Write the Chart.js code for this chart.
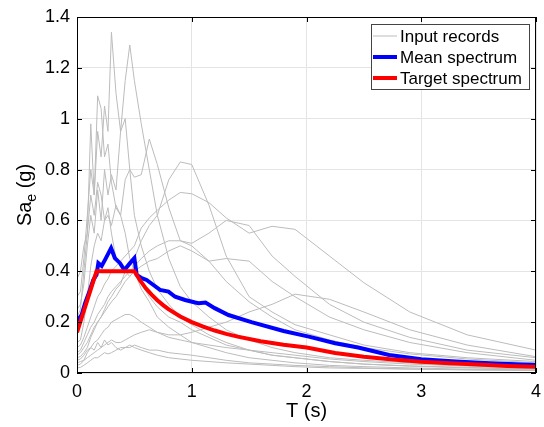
<!DOCTYPE html>
<html>
<head>
<meta charset="utf-8">
<script src="https://cdn.jsdelivr.net/npm/chart.js@4.4.0/dist/chart.umd.min.js"></script>
<style>
  html, body { margin: 0; padding: 0; background: #fff; }
  #wrap { width: 544px; height: 427px; }
</style>
</head>
<body>
<div id="wrap"><canvas id="spectra" width="544" height="427"></canvas></div>
<script>
// periods (s) shared by the input records
const periods = [0, 0.03, 0.06, 0.09, 0.12, 0.15, 0.18, 0.21, 0.24, 0.27, 0.3, 0.34, 0.38, 0.42, 0.46, 0.5,
                 0.56, 0.63, 0.7, 0.8, 0.9, 1.0, 1.15, 1.3, 1.5, 1.7, 1.9, 2.2, 2.5, 2.9, 3.4, 4.0];

// input records, Sa (g)
const rec01 = [0.30, 0.32, 0.45, 0.62, 0.80, 0.70, 0.95, 0.85, 1.05, 0.95, 1.34, 1.10, 0.95, 1.00, 0.80, 0.62,
               0.50, 0.40, 0.33, 0.27, 0.22, 0.19, 0.15, 0.12, 0.09, 0.07, 0.06, 0.045, 0.035, 0.027, 0.02, 0.015];
const rec02 = [0.25, 0.27, 0.35, 0.50, 0.62, 0.55, 0.72, 0.60, 0.80, 0.70, 0.78, 0.72, 0.95, 1.15, 1.29, 1.15,
               0.98, 0.80, 0.62, 0.45, 0.34, 0.28, 0.22, 0.17, 0.13, 0.10, 0.08, 0.06, 0.05, 0.04, 0.03, 0.022];
const rec03 = [0.22, 0.25, 0.40, 0.55, 0.98, 0.70, 1.09, 1.04, 0.85, 0.90, 0.75, 0.65, 0.62, 0.55, 0.45, 0.40,
               0.33, 0.28, 0.22, 0.18, 0.15, 0.12, 0.10, 0.08, 0.06, 0.05, 0.04, 0.03, 0.025, 0.02, 0.015, 0.012];
const rec04 = [0.12, 0.13, 0.20, 0.30, 0.42, 0.50, 0.55, 0.52, 0.60, 0.62, 0.58, 0.66, 0.62, 0.76, 0.80, 0.77,
               0.78, 0.92, 0.82, 0.65, 0.52, 0.50, 0.44, 0.36, 0.28, 0.22, 0.17, 0.13, 0.10, 0.075, 0.055, 0.04];
const rec05 = [0.06, 0.065, 0.08, 0.10, 0.14, 0.17, 0.20, 0.22, 0.25, 0.28, 0.30, 0.33, 0.35, 0.40, 0.43, 0.45,
               0.52, 0.58, 0.62, 0.76, 0.83, 0.82, 0.66, 0.46, 0.30, 0.24, 0.19, 0.15, 0.11, 0.08, 0.06, 0.045];
const rec06 = [0.10, 0.11, 0.14, 0.18, 0.22, 0.26, 0.30, 0.32, 0.35, 0.37, 0.40, 0.42, 0.44, 0.46, 0.48, 0.50,
               0.57, 0.61, 0.64, 0.68, 0.71, 0.705, 0.67, 0.61, 0.55, 0.577, 0.565, 0.46, 0.355, 0.24, 0.15, 0.09];
const rec07 = [0.08, 0.09, 0.12, 0.15, 0.18, 0.20, 0.23, 0.25, 0.27, 0.30, 0.32, 0.34, 0.36, 0.38, 0.40, 0.42,
               0.45, 0.48, 0.50, 0.52, 0.52, 0.51, 0.55, 0.60, 0.58, 0.46, 0.38, 0.27, 0.20, 0.14, 0.09, 0.06];
const rec08 = [0.04, 0.045, 0.05, 0.06, 0.07, 0.08, 0.09, 0.10, 0.11, 0.12, 0.13, 0.12, 0.12, 0.13, 0.14, 0.15,
               0.16, 0.17, 0.16, 0.15, 0.15, 0.16, 0.18, 0.20, 0.24, 0.27, 0.31, 0.29, 0.24, 0.17, 0.11, 0.064];
const rec09 = [0.05, 0.055, 0.07, 0.09, 0.10, 0.12, 0.13, 0.15, 0.17, 0.18, 0.20, 0.21, 0.22, 0.23, 0.23, 0.22,
               0.20, 0.18, 0.16, 0.14, 0.13, 0.12, 0.11, 0.10, 0.09, 0.08, 0.07, 0.055, 0.045, 0.035, 0.027, 0.02];
const rec10 = [0.03, 0.035, 0.05, 0.08, 0.10, 0.09, 0.12, 0.10, 0.13, 0.11, 0.12, 0.10, 0.09, 0.10, 0.11, 0.10,
               0.09, 0.08, 0.07, 0.06, 0.055, 0.05, 0.045, 0.04, 0.035, 0.03, 0.025, 0.02, 0.018, 0.015, 0.012, 0.01];
const rec11 = [0.02, 0.022, 0.03, 0.04, 0.05, 0.06, 0.06, 0.07, 0.08, 0.075, 0.08, 0.09, 0.10, 0.10, 0.10, 0.11,
               0.10, 0.09, 0.09, 0.08, 0.075, 0.07, 0.06, 0.05, 0.04, 0.035, 0.03, 0.025, 0.02, 0.016, 0.013, 0.01];
const rec12 = [0.37, 0.40, 0.50, 0.55, 0.70, 0.62, 0.75, 0.70, 0.60, 0.65, 0.55, 0.45, 0.42, 0.40, 0.38, 0.40,
               0.35, 0.30, 0.26, 0.22, 0.20, 0.17, 0.14, 0.11, 0.09, 0.07, 0.06, 0.045, 0.035, 0.028, 0.022, 0.017];
const rec13 = [0.07, 0.08, 0.10, 0.12, 0.15, 0.18, 0.20, 0.22, 0.24, 0.26, 0.28, 0.30, 0.33, 0.36, 0.38, 0.40,
               0.42, 0.44, 0.45, 0.48, 0.50, 0.48, 0.44, 0.45, 0.44, 0.36, 0.30, 0.22, 0.17, 0.12, 0.08, 0.05];
const records = [rec01, rec02, rec03, rec04, rec05, rec06, rec07, rec08, rec09, rec10, rec11, rec12, rec13];

// mean spectrum
const meanT  = [0, 0.04, 0.07, 0.113, 0.142, 0.17, 0.186, 0.215, 0.244, 0.297, 0.33, 0.375, 0.413, 0.462, 0.5,
                0.52, 0.564, 0.607, 0.666, 0.724, 0.797, 0.855, 0.942, 1.03, 1.06, 1.12, 1.2, 1.32, 1.52, 1.8,
                2.02, 2.25, 2.45, 2.72, 3.0, 3.3, 3.6, 4.0];
const meanSa = [0.205, 0.228, 0.274, 0.327, 0.366, 0.386, 0.432, 0.421, 0.445, 0.491, 0.452, 0.432, 0.405, 0.432, 0.452,
                0.386, 0.373, 0.366, 0.346, 0.327, 0.32, 0.30, 0.287, 0.277, 0.274, 0.277, 0.255, 0.228, 0.2, 0.165,
                0.143, 0.117, 0.1, 0.071, 0.054, 0.045, 0.038, 0.031];

// target spectrum
const targetT  = [0, 0.17, 0.5, 0.55, 0.6, 0.65, 0.7, 0.75, 0.8, 0.9, 1.0, 1.1, 1.2, 1.3, 1.4, 1.6, 1.8, 2.0,
                  2.25, 2.5, 2.75, 3.0, 3.25, 3.5, 3.75, 4.0];
const targetSa = [0.16, 0.4, 0.4, 0.364, 0.333, 0.308, 0.286, 0.267, 0.25, 0.222, 0.2, 0.182, 0.167, 0.154, 0.143,
                  0.125, 0.111, 0.1, 0.079, 0.064, 0.053, 0.044, 0.038, 0.033, 0.028, 0.025];

const xTicks = [0, 1, 2, 3, 4];
const yTicks = [0, 0.2, 0.4, 0.6, 0.8, 1, 1.2, 1.4];

const FONT = 'Liberation Sans, Arial, Helvetica, sans-serif';
const toPts = (xs, ys) => xs.map((t, i) => ({ x: t, y: ys[i] }));

const datasets = [
    {
        label: 'Target spectrum',
        data: toPts(targetT, targetSa),
        borderColor: 'rgb(255,0,0)',
        borderWidth: 4,
        order: 0
    },
    {
        label: 'Mean spectrum',
        data: toPts(meanT, meanSa),
        borderColor: 'rgb(0,0,255)',
        borderWidth: 4,
        order: 1
    }
];
records.forEach((r, i) => {
    datasets.push({
        label: 'Input records ' + (i + 1),
        data: toPts(periods, r),
        borderColor: 'rgb(188,188,188)',
        borderWidth: 1,
        order: 2
    });
});

// frame, inward ticks, axis titles and legend (MATLAB style)
const matlabBox = {
    id: 'matlabBox',
    afterDraw(chart) {
        const { ctx, chartArea: a, scales: { x, y } } = chart;
        ctx.save();
        ctx.strokeStyle = '#000';
        ctx.lineWidth = 1;
        ctx.strokeRect(a.left + 0.5, a.top + 0.5, a.right - a.left - 1, a.bottom - a.top - 1);
        ctx.beginPath();
        xTicks.forEach(v => {
            const px = Math.round(x.getPixelForValue(v)) + 0.5;
            ctx.moveTo(px, a.bottom); ctx.lineTo(px, a.bottom - 5);
            ctx.moveTo(px, a.top); ctx.lineTo(px, a.top + 5);
        });
        yTicks.forEach(v => {
            const py = Math.round(y.getPixelForValue(v)) + 0.5;
            ctx.moveTo(a.left, py); ctx.lineTo(a.left + 5, py);
            ctx.moveTo(a.right, py); ctx.lineTo(a.right - 5, py);
        });
        ctx.stroke();

        // x title
        ctx.fillStyle = '#000';
        ctx.font = '20px ' + FONT;
        ctx.textAlign = 'center';
        ctx.textBaseline = 'middle';
        ctx.fillText('T (s)', (a.left + a.right) / 2, 411);

        // y title with subscript
        ctx.save();
        ctx.translate(31, (a.top + a.bottom) / 2);
        ctx.rotate(-Math.PI / 2);
        ctx.textAlign = 'left';
        ctx.textBaseline = 'alphabetic';
        const big = '20px ' + FONT, small = '14px ' + FONT;
        ctx.font = big; const w1 = ctx.measureText('Sa').width;
        ctx.font = small; const w2 = ctx.measureText('e').width;
        ctx.font = big; const w3 = ctx.measureText(' (g)').width;
        let sx = -(w1 + w2 + w3) / 2;
        ctx.font = big; ctx.fillText('Sa', sx, 0); sx += w1;
        ctx.font = small; ctx.fillText('e', sx, 5); sx += w2;
        ctx.font = big; ctx.fillText(' (g)', sx, 0);
        ctx.restore();

        // legend
        const lx = 371, ly = 24, lw = 158, lh = 65;
        ctx.fillStyle = '#fff';
        ctx.fillRect(lx, ly, lw, lh);
        ctx.strokeStyle = '#444';
        ctx.lineWidth = 1;
        ctx.strokeRect(lx + 0.5, ly + 0.5, lw, lh);
        const items = [
            ['Input records', 'rgb(188,188,188)', 1],
            ['Mean spectrum', 'rgb(0,0,255)', 4],
            ['Target spectrum', 'rgb(255,0,0)', 4]
        ];
        ctx.font = '17px ' + FONT;
        ctx.textAlign = 'left';
        ctx.textBaseline = 'middle';
        items.forEach((it, i) => {
            const ry = ly + 12 + i * 21;
            ctx.strokeStyle = it[1];
            ctx.lineWidth = it[2];
            ctx.beginPath();
            ctx.moveTo(lx + 2, ry); ctx.lineTo(lx + 26, ry);
            ctx.stroke();
            ctx.fillStyle = '#000';
            ctx.fillText(it[0], lx + 29, ry + 1);
        });
        ctx.restore();
    }
};

const chart = new Chart(document.getElementById('spectra'), {
    type: 'line',
    data: { datasets: datasets },
    options: {
        responsive: false,
        devicePixelRatio: 1,
        animation: false,
        events: [],
        elements: { point: { radius: 0 }, line: { fill: false, tension: 0 } },
        layout: { padding: { left: 0, top: 17, right: 8, bottom: 0 } },
        plugins: { legend: { display: false }, tooltip: { enabled: false }, title: { display: false } },
        scales: {
            x: {
                type: 'linear',
                min: 0, max: 4,
                afterFit: s => { s.height = 54; s.paddingLeft = 0; s.paddingRight = 0; },
                afterBuildTicks: s => { s.ticks = xTicks.map(v => ({ value: v })); },
                grid: { color: 'rgb(228,228,228)', drawTicks: false },
                border: { display: false },
                ticks: { color: '#000', padding: 8, font: { family: FONT, size: 18 }, maxRotation: 0,
                         callback: v => String(v) }
            },
            y: {
                type: 'linear',
                min: 0, max: 1.4,
                afterFit: s => { s.width = 77; s.paddingTop = 0; s.paddingBottom = 0; },
                afterBuildTicks: s => { s.ticks = yTicks.map(v => ({ value: v })); },
                grid: { color: 'rgb(228,228,228)', drawTicks: false },
                border: { display: false },
                ticks: { color: '#000', padding: 7, font: { family: FONT, size: 18 },
                         callback: v => String(Math.round(v * 10) / 10) }
            }
        }
    },
    plugins: [matlabBox]
});
</script>
</body>
</html>
